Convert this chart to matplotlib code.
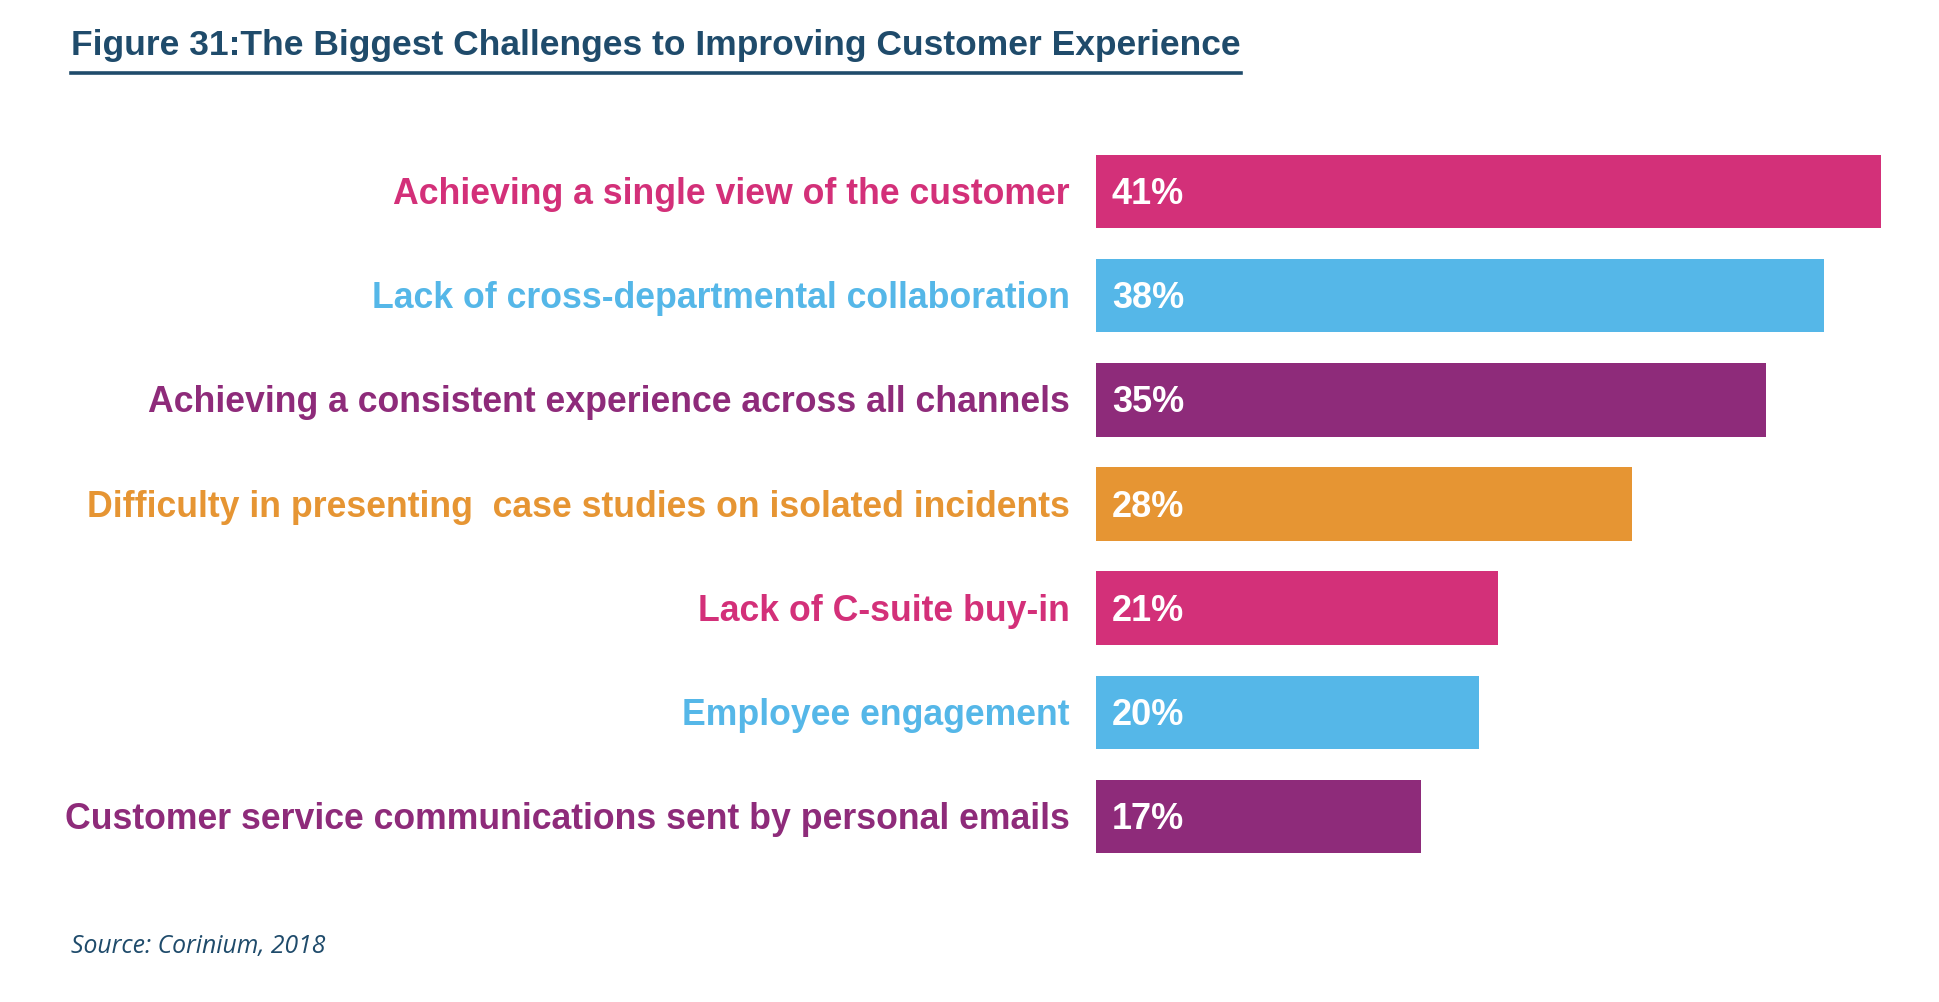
import matplotlib
matplotlib.use("Agg")
import matplotlib.pyplot as plt
from matplotlib.lines import Line2D

categories = [
    "Achieving a single view of the customer",
    "Lack of cross-departmental collaboration",
    "Achieving a consistent experience across all channels",
    "Difficulty in presenting  case studies on isolated incidents",
    "Lack of C-suite buy-in",
    "Employee engagement",
    "Customer service communications sent by personal emails",
]
values = [41, 38, 35, 28, 21, 20, 17]
value_labels = ["41%", "38%", "35%", "28%", "21%", "20%", "17%"]
colors = ["#D33079", "#55B7E8", "#8E2B7A", "#E69533", "#D33079", "#55B7E8", "#8E2B7A"]

title = "Figure 31:The Biggest Challenges to Improving Customer Experience"
source = "Source: Corinium, 2018"
navy = "#1F4B6B"

W, H = 1940, 1002
fig = plt.figure(figsize=(W / 100, H / 100), dpi=100)
fig.patch.set_facecolor("white")

ax_left, ax_right = 1096 / W, 1881 / W
ax_top, ax_bot = 1 - 139.4 / H, 1 - 868.7 / H
ax = fig.add_axes([ax_left, ax_bot, ax_right - ax_left, ax_top - ax_bot])
ax.set_xlim(0, 41)
ax.set_ylim(len(values) - 0.5, -0.5)
ax.axis("off")

ypos = list(range(len(values)))
ax.barh(ypos, values, height=0.706, color=colors, edgecolor="none")

for y, lab, c, vl in zip(ypos, categories, colors, value_labels):
    ax.annotate(lab, xy=(0, y), xytext=(-26, -3), textcoords="offset pixels",
                ha="right", va="center", color=c, fontsize=25.7,
                fontweight="bold", family="Liberation Sans")
    ax.annotate(vl, xy=(0, y), xytext=(16, -3), textcoords="offset pixels",
                ha="left", va="center", color="white", fontsize=26,
                fontweight="bold", family="Liberation Sans")

fig.text(71 / W, 1 - 46 / H, title, ha="left", va="center", color=navy,
         fontsize=25.5, fontweight="bold", family="Liberation Sans")
fig.add_artist(Line2D([71 / W, 1241 / W], [1 - 73 / H, 1 - 73 / H],
                      transform=fig.transFigure, color=navy, linewidth=2.6))

fig.text(71 / W, 1 - 947 / H, source, ha="left", va="center", color=navy,
         fontsize=17.8, fontstyle="italic", family="Open Sans")

fig.savefig("out.png", dpi=100)
